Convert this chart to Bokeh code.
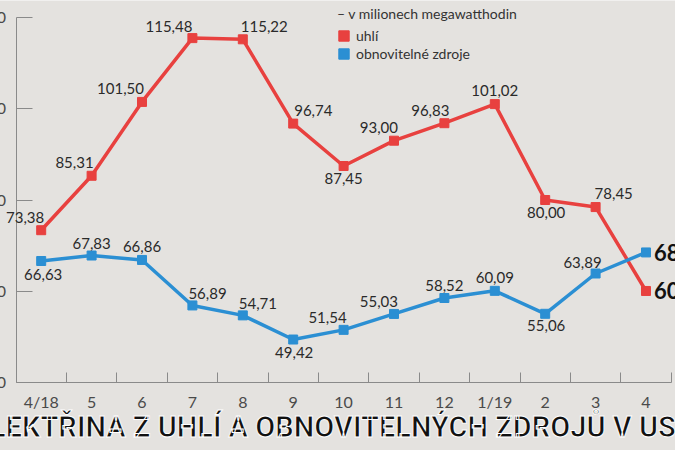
from bokeh.plotting import figure
from bokeh.models import (ColumnDataSource, LabelSet, Label, FixedTicker, Legend, LegendItem,
                          Range1d)
from bokeh.core.properties import value
from bokeh.embed import file_html
from bokeh.resources import INLINE

# ---- data ----
months = ["4/18", "5", "6", "7", "8", "9", "10", "11", "12", "1/19", "2", "3", "4"]
coal = [73.38, 85.31, 101.50, 115.48, 115.22, 96.74, 87.45, 93.00, 96.83, 101.02, 80.00, 78.45, 60.06]
renewables = [66.63, 67.83, 66.86, 56.89, 54.71, 49.42, 51.54, 55.03, 58.52, 60.09, 55.06, 63.89, 68.51]
y_ticks = [40, 60, 80, 100, 120]
title_text = "ELEKTŘINA Z UHLÍ A OBNOVITELNÝCH ZDROJŮ V USA"
unit_text = "– v milionech megawatthodin"
series_names = ["uhlí", "obnovitelné zdroje"]

# ---- label placement (layout only) ----
coal_align = ["right", "right", "right", "right", "left", "left", "center", "right", "right", "center", "center", "left"]
coal_dx = [3, 2, 2, 0, -2, 1, 0, 4, 5, 0, 1, -1]
coal_dy = [13, 13, 13, 12, 13, 13, -12, 13, 13, 14, -12, 14]
ren_align = ["center", "center", "center", "left", "left", "center", "right", "right", "center", "center", "center", "right"]
ren_dx = [2, 0, 0, -4, -4, 1, 3, 4, 0, 0, 1, 6]
ren_dy = [-13, 12, 13, 12, 12, -13, 12, 12, 13, 13, -12, 11]

RED = "#e8413f"
BLUE = "#2b8fd3"
BG = "#e4e2df"
FONT = "Lato"

def fmt(v):
    return f"{v:.2f}".replace(".", ",")

xs = list(range(len(months)))
ax0, ax1 = -0.5, len(months) - 0.5          # extent of the x axis (category boundaries)
ay0, ay1 = y_ticks[0], y_ticks[-1]            # extent of the y axis

# canvas geometry (pixels); the canvas is shifted 40px to the left of the window
W, H, SHIFT = 715, 450, 40
AX_LEFT, AX_RIGHT = 15.5 + SHIFT, 670.7 + SHIFT   # pixel x of the axis ends
AX_TOP, AX_BOTTOM = 17.0, 382.0                   # pixel y of the axis ends
kx = (ax1 - ax0) / (AX_RIGHT - AX_LEFT)
ky = (ay1 - ay0) / (AX_BOTTOM - AX_TOP)
x_start, x_end = ax0 - AX_LEFT * kx, ax1 + (W - AX_RIGHT) * kx
y_start, y_end = ay0 - (H - AX_BOTTOM) * ky, ay1 + AX_TOP * ky

p = figure(width=W, height=H, output_backend="svg", toolbar_location=None,
           x_range=Range1d(x_start, x_end), y_range=Range1d(y_start, y_end),
           min_border=0, min_border_left=0, min_border_right=0, min_border_top=0, min_border_bottom=0,
           background_fill_color=BG, border_fill_color=BG, outline_line_color=None,
           styles={"margin-left": f"-{SHIFT}px", "margin-top": "0px", "margin-bottom": "0px"})
p.grid.visible = False

# axes, drawn at fixed locations inside the frame
p.xaxis.fixed_location = ay0
p.xaxis.bounds = (ax0, ax1)
p.xaxis.ticker = FixedTicker(ticks=xs, minor_ticks=[i - 0.5 for i in range(len(months) + 1)])
p.xaxis.major_label_overrides = {i: m for i, m in enumerate(months)}
p.xaxis.major_tick_in = 0
p.xaxis.major_tick_out = 0
p.xaxis.minor_tick_in = 10
p.xaxis.minor_tick_out = 0
p.xaxis.minor_tick_line_color = "#8a8a8a"
p.xaxis.axis_line_color = "#8a8a8a"
p.xaxis.major_label_standoff = 9
p.xaxis.major_label_text_font = FONT
p.xaxis.major_label_text_font_size = "16px"
p.xaxis.major_label_text_color = "#4a4a4a"

p.yaxis.fixed_location = ax0
p.yaxis.bounds = (ay0, ay1)
p.yaxis.ticker = FixedTicker(ticks=y_ticks, minor_ticks=[])
p.yaxis.major_tick_in = 16
p.yaxis.major_tick_out = 0
p.yaxis.major_tick_line_color = "#8a8a8a"
p.yaxis.axis_line_color = "#8a8a8a"
p.yaxis.major_label_standoff = 10
p.yaxis.major_label_text_font = FONT
p.yaxis.major_label_text_font_size = "16px"
p.yaxis.major_label_text_color = "#4a4a4a"

# lines and markers
p.line(xs, coal, line_width=3.5, color=RED)
p.scatter(xs, coal, marker="square", size=9, color=RED)
p.line(xs, renewables, line_width=3.5, color=BLUE)
p.scatter(xs, renewables, marker="square", size=9, color=BLUE)

# value labels
n = len(months) - 1
coal_src = ColumnDataSource(dict(x=xs[:n], y=coal[:n], t=[fmt(v) for v in coal[:n]],
                                 a=coal_align, dx=coal_dx, dy=coal_dy))
ren_src = ColumnDataSource(dict(x=xs[:n], y=renewables[:n], t=[fmt(v) for v in renewables[:n]],
                                a=ren_align, dx=ren_dx, dy=ren_dy))
for src in (coal_src, ren_src):
    p.add_layout(LabelSet(x="x", y="y", text="t", source=src, text_align="a",
                          x_offset="dx", y_offset="dy", text_baseline="middle",
                          text_font=value(FONT), text_font_size="15px", text_color="#2a2a2a"))

last_src = ColumnDataSource(dict(x=[xs[-1], xs[-1]], y=[renewables[-1], coal[-1]],
                                 t=[fmt(renewables[-1]), fmt(coal[-1])]))
p.add_layout(LabelSet(x="x", y="y", text="t", source=last_src, text_align="left",
                      x_offset=8, y_offset=0, text_baseline="middle",
                      text_font=value(FONT), text_font_style="bold",
                      text_font_size="22px", text_color="#111111"))

# legend (dummy area glyphs outside the visible range, only used for the legend swatches)
far_x, far_y = x_start - 100, y_start - 100
r_c = p.quad(left=[far_x], right=[far_x + 1], bottom=[far_y], top=[far_y + 1], color=RED)
r_r = p.quad(left=[far_x], right=[far_x + 1], bottom=[far_y], top=[far_y + 1], color=BLUE)
legend = Legend(items=[LegendItem(label=series_names[0], renderers=[r_c]),
                       LegendItem(label=series_names[1], renderers=[r_r])],
                location=(337 + SHIFT, H - 62), title=unit_text,
                title_text_font=FONT, title_text_font_style="normal", title_text_font_size="14px",
                title_text_color="#333333", title_standoff=5,
                label_text_font=FONT, label_text_font_size="14px", label_text_color="#333333",
                glyph_width=13, glyph_height=13, label_height=15, label_standoff=6,
                spacing=1, padding=0, margin=0,
                background_fill_alpha=0, border_line_color=None)
p.add_layout(legend, "center")

# title
p.add_layout(Label(x=334 + SHIFT, y=24, x_units="screen", y_units="screen", text=title_text,
                   text_align="center", text_baseline="alphabetic",
                   text_font="Roboto", text_font_style="bold",
                   text_font_size="29px", text_color="#111111", text_outline_color="white"))

open("out.html", "w").write(file_html(p, INLINE))
